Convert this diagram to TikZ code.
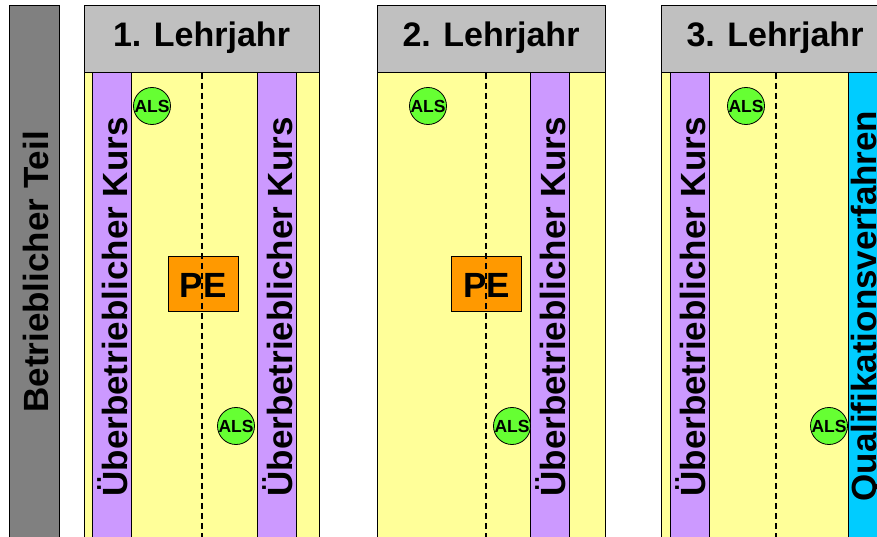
\documentclass[tikz,border=0pt]{standalone}
\usepackage{fontspec}
\setmainfont{Liberation Sans}
\definecolor{greybar}{HTML}{808080}
\definecolor{headc}{HTML}{C0C0C0}
\definecolor{yellowc}{HTML}{FFFF99}
\definecolor{purplec}{HTML}{CC99FF}
\definecolor{orangec}{HTML}{FF9900}
\definecolor{greenc}{HTML}{66FF33}
\definecolor{cyanc}{HTML}{00CCFF}
\begin{document}
\begin{tikzpicture}[x=1pt,y=-1pt,line width=0.8pt,
  boxline/.style={draw=black,line width=0.8pt},
  vtext/.style={rotate=90,anchor=base west,inner sep=0pt,font=\fontsize{35}{35}\selectfont\bfseries},
  htext/.style={anchor=base,inner sep=0pt,font=\fontsize{34}{34}\selectfont\bfseries},
  als/.style={circle,draw=black,line width=0.8pt,fill=greenc,minimum size=36pt,inner sep=0pt,font=\fontsize{17.5}{17.5}\selectfont\bfseries},
  pebox/.style={draw=black,line width=0.8pt,fill=orangec,minimum width=70pt,minimum height=55pt,inner sep=0pt},
  petext/.style={anchor=base,inner sep=0pt,font=\fontsize{35}{35}\selectfont\bfseries},
  dashline/.style={draw=black,line width=1.1pt,dash pattern=on 6pt off 4pt}]
\useasboundingbox (0,0) rectangle (877,537);
\clip (0,0) rectangle (877,537);
% left grey bar
\draw[boxline,fill=greybar] (9,5) rectangle (59,560);
\node[vtext] (bt) at (48,413) {Betrieblicher Teil};
% column bodies and headers
\draw[boxline,fill=yellowc] (84,72) rectangle (319,560);
\draw[boxline,fill=headc] (84,5) rectangle (319,72);
\draw[boxline,fill=yellowc] (377,72) rectangle (605,560);
\draw[boxline,fill=headc] (377,5) rectangle (605,72);
\draw[boxline,fill=yellowc] (661,72) rectangle (889,560);
\draw[boxline,fill=headc] (661,5) rectangle (889,72);
\node[htext] (h1) at (201.5,47) {1. Lehrjahr};
\node[htext] (h2) at (491,47) {2. Lehrjahr};
\node[htext] (h3) at (775,47) {3. Lehrjahr};
% strips
\draw[boxline,fill=purplec] (92,72) rectangle (131,560);
\draw[boxline,fill=purplec] (257,72) rectangle (296,560);
\draw[boxline,fill=purplec] (530,72) rectangle (569,560);
\draw[boxline,fill=purplec] (670,72) rectangle (709,560);
\draw[boxline,fill=cyanc] (848,72) rectangle (888,560);
% PE boxes
\node[pebox] (pe1) at (203,283.5) {};
\node[pebox] (pe2) at (486.5,283.5) {};
% dashed lines
\draw[dashline] (202,73) -- (202,560);
\draw[dashline] (486,73) -- (486,560);
\draw[dashline] (776,73) -- (776,560);
\node[petext] (pt1) at (203,297) {PE};
\node[petext] (pt2) at (486.5,297) {PE};
% vertical strip texts
\node[vtext] (k1) at (127,497) {Überbetrieblicher Kurs};
\node[vtext] (k2) at (292,497) {Überbetrieblicher Kurs};
\node[vtext] (k3) at (565,497) {Überbetrieblicher Kurs};
\node[vtext] (k4) at (705,497) {Überbetrieblicher Kurs};
\node[vtext] (qv) at (876,502) {Qualifikationsverfahren};
% ALS circles
\node[als] (a1) at (152,106) {ALS};
\node[als] (a2) at (236,426) {ALS};
\node[als] (a3) at (428,106) {ALS};
\node[als] (a4) at (512,426) {ALS};
\node[als] (a5) at (746,106) {ALS};
\node[als] (a6) at (829,426) {ALS};
\end{tikzpicture}
\end{document}
